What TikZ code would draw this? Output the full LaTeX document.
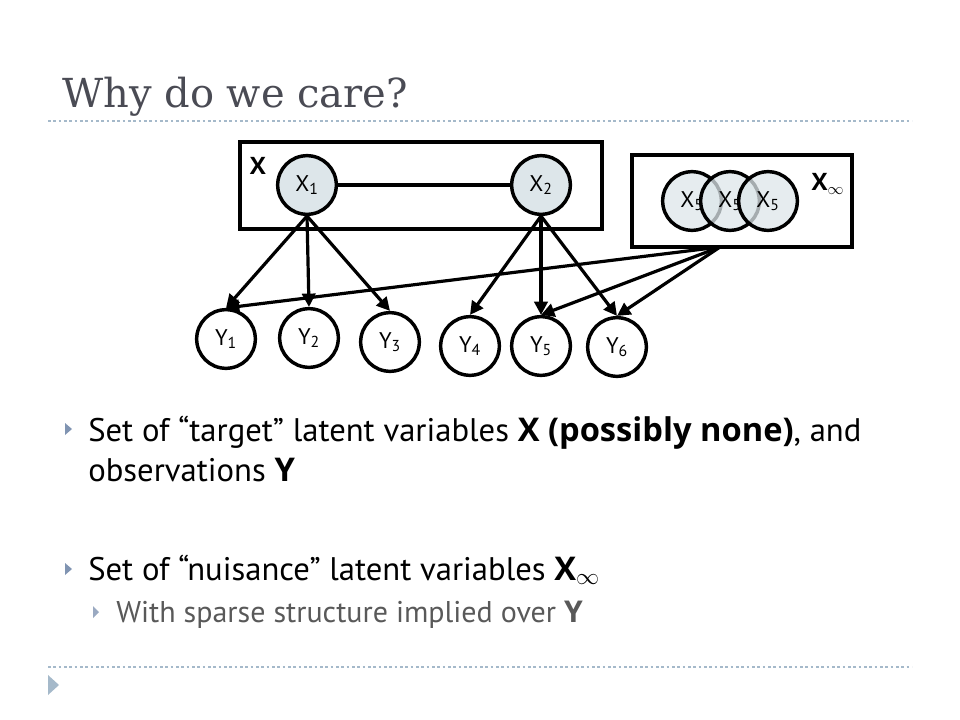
\documentclass[tikz,border=0pt]{standalone}
\usepackage{fontspec}
\setmainfont{PT Sans}
\newfontfamily\titlefont{DejaVu Serif}
\newfontfamily\heavyfont{Open Sans}
\newcommand\hb[1]{{\heavyfont\bfseries #1}}
\usepackage{xcolor}
\usetikzlibrary{arrows.meta, fit}
\definecolor{titlegray}{RGB}{74,75,84}
\definecolor{rulecolor}{RGB}{165,185,202}
\definecolor{bulletcolor}{RGB}{128,148,178}
\definecolor{nodefill}{RGB}{221,230,234}
\definecolor{subgray}{RGB}{89,89,89}

\begin{document}
\begin{tikzpicture}[
  x=0.75pt, y=-0.75pt,
  var/.style={circle, draw, line width=2.6pt, fill=nodefill,
    minimum size=44pt, inner sep=0pt, font=\fontsize{17}{17}\selectfont},
  obs/.style={var, fill=white},
  plate/.style={rectangle, draw, line width=2.6pt, inner sep=0pt},
  arrow/.style={-{Triangle[length=10pt, width=10pt]}, line width=2.4pt},
  rule/.style={rulecolor, line width=0.8pt, dash pattern=on 2pt off 2pt},
  item/.style={anchor=base west, inner sep=0pt, font=\fontsize{24.5}{30}\selectfont}
]
  \useasboundingbox (0,0) rectangle (960,720);

  % title and rules
  \node[anchor=base west, inner sep=0pt, text=titlegray,
    font=\titlefont\fontsize{30}{36}\selectfont] (title) at (62,108) {Why do we care?};
  \draw[rule] (48,121) -- (912,121);
  \draw[rule] (48,667) -- (912,667);
  \fill[rulecolor] (48,675) -- (59,685) -- (48,695) -- cycle;

  % plates
  \node[plate, fit={(240,142) (602,229)}] (Xbox) {};
  \node[plate, fit={(632,155) (852,247)}] (Xinf) {};
  \node[font=\fontsize{18}{18}\selectfont] (Xlab) at (258,166) {\hb{X}};
  \node[font=\fontsize{18}{18}\selectfont] (Xinflab) at (828,184) {\hb{X}$_\infty$};

  % latent variables
  \node[var] (X1) at (307,185) {X\textsubscript{1}};
  \node[var] (X2) at (541,185) {X\textsubscript{2}};
  \node[var, fill opacity=0.75, text opacity=1] (Xa) at (692,201) {X\textsubscript{5}};
  \node[var, fill opacity=0.75, text opacity=1] (Xb) at (730,201) {X\textsubscript{5}};
  \node[var, fill opacity=0.75, text opacity=1] (Xc) at (768,201) {X\textsubscript{5}};
  \coordinate (hub) at (720,247);

  % observations
  \node[obs] (Y1) at (226,339) {Y\textsubscript{1}};
  \node[obs] (Y2) at (309,338) {Y\textsubscript{2}};
  \node[obs] (Y3) at (390,342) {Y\textsubscript{3}};
  \node[obs] (Y4) at (470,346) {Y\textsubscript{4}};
  \node[obs] (Y5) at (541,346) {Y\textsubscript{5}};
  \node[obs] (Y6) at (617,347) {Y\textsubscript{6}};

  \draw[line width=2.6pt] (X1) -- (X2);
  \draw[arrow] (X1.south) -- (Y1.north);
  \draw[arrow] (X1.south) -- (Y2.north);
  \draw[arrow] (X1.south) -- (Y3.north);
  \draw[arrow] (X2.south) -- (Y4.north);
  \draw[arrow] (X2.south) -- (Y5.north);
  \draw[arrow] (X2.south) -- (Y6.north);
  \draw[arrow] (hub) -- (Y1.north);
  \draw[arrow] (hub) -- (Y5.north);
  \draw[arrow] (hub) -- (Y6.north);

  % bullets
  \fill[bulletcolor] (65,423) -- (72,429) -- (65,435) -- cycle;
  \fill[bulletcolor] (65,563) -- (72,569) -- (65,575) -- cycle;
  \fill[bulletcolor!80] (93,606) -- (99,612) -- (93,618) -- cycle;
  \node[item] (line1) at (88,441) {Set of “target” latent variables \hb{X (possibly none)}, and};
  \node[item] (line2) at (88,481) {observations \hb{Y}};
  \node[item] (line3) at (88,580) {Set of “nuisance” latent variables \hb{X}$_\infty$};
  \node[item, text=subgray, font=\fontsize{22.5}{26}\selectfont] (line4) at (116,622)
    {With sparse structure implied over \hb{Y}};
\end{tikzpicture}
\end{document}
